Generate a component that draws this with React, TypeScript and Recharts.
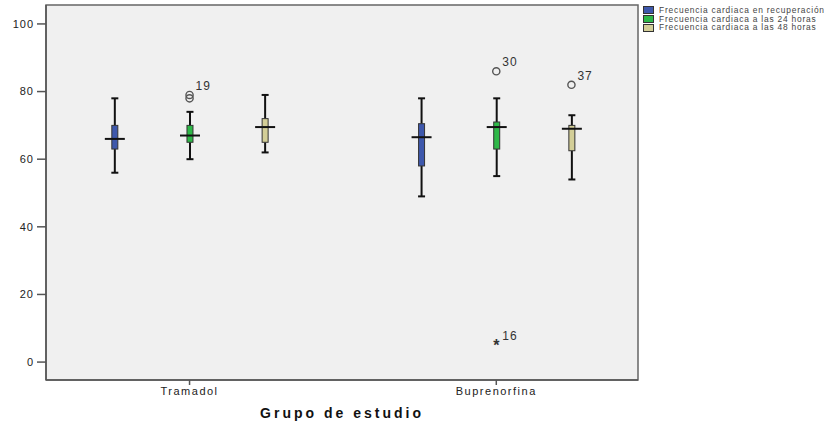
import {
  ComposedChart,
  Bar,
  Scatter,
  XAxis,
  YAxis,
  CartesianGrid,
  ReferenceArea,
} from "recharts";

const groups = ["Tramadol", "Buprenorfina"];
const seriesNames = [
  "Frecuencia cardiaca en recuperación",
  "Frecuencia cardiaca a las 24 horas",
  "Frecuencia cardiaca a las 48 horas",
];

// [group][series]
const lowWhisker = [
  [56, 60, 62],
  [49, 55, 54],
];
const q1 = [
  [63, 65, 65],
  [58, 63, 62.5],
];
const medians = [
  [66, 67, 69.5],
  [66.5, 69.5, 69],
];
const q3 = [
  [70, 70, 72],
  [70.5, 71, 70],
];
const highWhisker = [
  [78, 74, 79],
  [78, 78, 73],
];

const outliers = [
  { group: 0, series: 1, value: 79, label: "19", extreme: false },
  { group: 0, series: 1, value: 78, label: "", extreme: false },
  { group: 1, series: 1, value: 86, label: "30", extreme: false },
  { group: 1, series: 1, value: 5, label: "16", extreme: true },
  { group: 1, series: 2, value: 82, label: "37", extreme: false },
];

const yTicks = [0, 20, 40, 60, 80, 100];

const COLORS = ["#3e58ac", "#2eb848", "#d3ce97"];
const FONT = "'Liberation Sans', Arial, sans-serif";
const X_DOMAIN = [0.532, 2.462];
const Y_DOMAIN = [-5.3, 105.6];
const OFFSET = 0.245;

const xPos = (g: number, s: number) => g + 1 + (s - 1) * OFFSET;

const boxRows = groups.flatMap((_, g) =>
  seriesNames.map((_, s) => ({
    x: xPos(g, s),
    s,
    box: [q1[g][s], q3[g][s]],
    q1: q1[g][s],
    q3: q3[g][s],
    median: medians[g][s],
    low: lowWhisker[g][s],
    high: highWhisker[g][s],
  }))
);

const outlierRows = outliers.map((o) => ({
  x: xPos(o.group, o.series),
  y: o.value,
  label: o.label,
  extreme: o.extreme,
}));

const BoxShape = (props: any) => {
  const { x, y, width, height, payload } = props;
  const k = height / (payload.q3 - payload.q1);
  const py = (v: number) => y + (payload.q3 - v) * k;
  const cx = x + width / 2;
  const top = py(payload.high);
  const bottom = py(payload.low);
  const med = py(payload.median);
  return (
    <g>
      <line x1={cx} x2={cx} y1={top} y2={y} stroke="#111" strokeWidth={2} />
      <line x1={cx} x2={cx} y1={y + height} y2={bottom} stroke="#111" strokeWidth={2} />
      <line x1={cx - 3.5} x2={cx + 3.5} y1={top} y2={top} stroke="#111" strokeWidth={2} />
      <line x1={cx - 3.5} x2={cx + 3.5} y1={bottom} y2={bottom} stroke="#111" strokeWidth={2} />
      <rect
        x={x}
        y={y}
        width={width}
        height={height}
        fill={COLORS[payload.s]}
        stroke="#333"
        strokeWidth={1}
      />
      <line x1={cx - 10} x2={cx + 10} y1={med} y2={med} stroke="#111" strokeWidth={2} />
    </g>
  );
};

const OutlierShape = (props: any) => {
  const { cx, cy, payload } = props;
  return (
    <g>
      {payload.extreme ? (
        <text
          x={cx}
          y={cy + 6}
          textAnchor="middle"
          fontSize={16}
          fontWeight="bold"
          fontFamily={FONT}
          fill="#333"
        >
          *
        </text>
      ) : (
        <circle cx={cx} cy={cy} r={3.6} fill="none" stroke="#555" strokeWidth={1.4} />
      )}
      {payload.label && (
        <text
          x={cx + 6}
          y={cy - 5}
          fontSize={12}
          fontFamily={FONT}
          letterSpacing={1}
          fill="#333"
        >
          {payload.label}
        </text>
      )}
    </g>
  );
};

export default function App() {
  return (
    <div style={{ position: "absolute", left: 0, top: 0, width: 832, height: 423, background: "#fff" }}>
      <ComposedChart
        width={832}
        height={423}
        data={boxRows}
        margin={{ top: 5, right: 194, bottom: 0, left: 0 }}
      >
        <CartesianGrid fill="#f0f0f0" horizontal={false} vertical={false} />
        <XAxis
          dataKey="x"
          type="number"
          domain={X_DOMAIN}
          allowDataOverflow
          ticks={[1, 2]}
          tickFormatter={(v) => groups[v - 1]}
          height={43}
          tickSize={5}
          tickMargin={2}
          stroke="#555"
          strokeWidth={1.5}
          tick={{ fontSize: 11, fill: "#222", fontFamily: FONT, letterSpacing: 1.5 }}
          label={{
            value: "Grupo de estudio",
            position: "insideBottom",
            offset: 5,
            fontSize: 14,
            fontWeight: "bold",
            fill: "#111",
            fontFamily: FONT,
            letterSpacing: 3,
          }}
        />
        <YAxis
          type="number"
          domain={Y_DOMAIN}
          allowDataOverflow
          ticks={yTicks}
          width={46}
          tickSize={9}
          tickMargin={3}
          stroke="#555"
          strokeWidth={1.5}
          tick={{ fontSize: 11, fill: "#222", fontFamily: FONT, letterSpacing: 1 }}
        />
        <ReferenceArea
          x1={X_DOMAIN[0]}
          x2={X_DOMAIN[1]}
          y1={Y_DOMAIN[0]}
          y2={Y_DOMAIN[1]}
          fill="none"
          fillOpacity={0}
          stroke="#666"
          strokeWidth={1.5}
        />
        <Bar dataKey="box" barSize={6} shape={<BoxShape />} isAnimationActive={false} />
        <Scatter
          data={outlierRows}
          dataKey="y"
          shape={<OutlierShape />}
          isAnimationActive={false}
        />
      </ComposedChart>
      <div
        style={{
          position: "absolute",
          left: 643,
          top: 6,
          fontFamily: FONT,
          fontSize: 8.4,
          letterSpacing: 0.8,
          color: "#444",
          lineHeight: "8.7px",
        }}
      >
        {seriesNames.map((name, i) => (
          <div key={name} style={{ display: "flex", alignItems: "center", height: 8.7 }}>
            <span
              style={{
                display: "inline-block",
                width: 9,
                height: 6,
                background: COLORS[i],
                border: "1px solid #333",
                marginRight: 5,
              }}
            />
            <span>{name}</span>
          </div>
        ))}
      </div>
    </div>
  );
}
